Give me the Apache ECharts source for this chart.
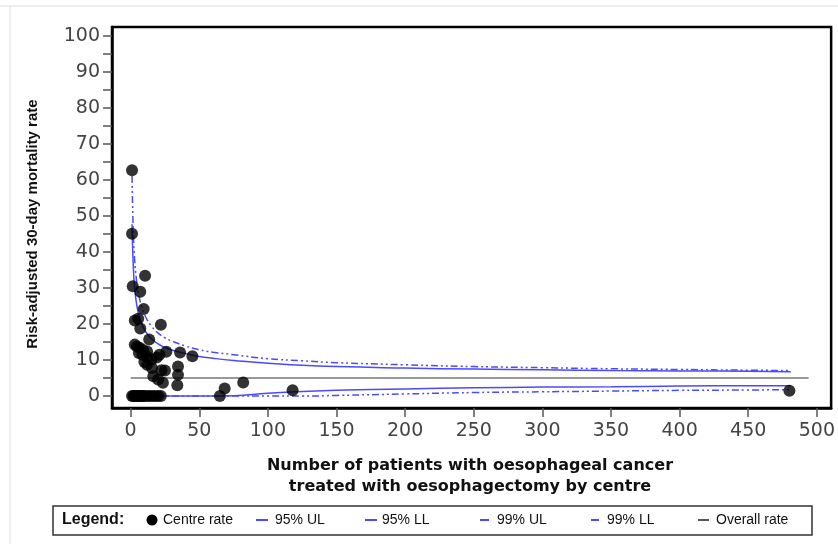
<!DOCTYPE html>
<html><head><meta charset="utf-8">
<script src="https://cdn.jsdelivr.net/npm/echarts@6/dist/echarts.min.js"></script>
<style>html,body{margin:0;padding:0;background:#fff}#c{width:838px;height:544px}</style>
</head><body><div id="c"></div>
<script>
// ---- data ----
const xTicks = [0,50,100,150,200,250,300,350,400,450,500];
const yLabels = [0,10,20,30,40,50,60,70,80,90,100];
const yTicks = [0,5,10,15,20,25,30,35,40,45,50,55,60,65,70,75,80,85,90,95,100];

const centreN = [1,1,10.5,1.5,7,9.5,3,5.5,7,22,13.5,3,6.5,9,12,4.5,8.5,12,15,19,21,26,36,45,12,15.5,22.5,25,34.5,34.5,34,16.5,20,23.5,10,6,65,68.5,82,118,480,
  1,2,3,4,5,6,7,8,9,10,12,14,16,18,20,22];
const centreRate = [62.7,45.1,33.4,30.5,29,24.2,21,21.5,18.8,19.8,15.7,14.3,13.4,12.8,12.4,13.8,11.5,10.9,10.1,10.7,11.5,12.3,12.1,11.1,8.7,7.8,7.2,7.1,8.2,5.9,3.0,5.5,4.6,3.7,9.5,12,0,2.1,3.8,1.6,1.5,
  0,0,0,0,0,0,0,0,0,0,0,0,0,0,0,0];

const limitN = [1,2,3,4,5,6,8,10,12,15,20,25,30,40,50,60,75,100,125,150,200,250,300,350,400,450,481];
const ul95 = [47.7,35.2,29.7,26.4,24.1,22.4,20.1,18.5,17.3,16.0,14.5,13.5,12.8,11.8,11.0,10.5,9.9,9.1,8.6,8.2,7.8,7.5,7.3,7.1,7.0,6.9,6.8];
const ll95 = [0,0,0,0,0,0,0,0,0,0,0,0,0,0,0,0,0.1,0.8,1.3,1.6,2.0,2.3,2.5,2.6,2.8,2.9,2.9];
const ul99 = [61.1,44.7,37.4,33.1,30.1,27.9,24.8,22.7,21.2,19.5,17.5,16.2,15.3,13.9,12.9,12.2,11.5,10.4,9.8,9.3,8.7,8.2,7.9,7.6,7.4,7.2,7.1];
const ll99 = [0,0,0,0,0,0,0,0,0,0,0,0,0,0,0,0,0,0,0,0.2,0.6,1.0,1.2,1.4,1.6,1.7,1.8];
const overallN = [0,494];
const overallRate = [5,5];

const pairs = (a,b)=>a.map((v,i)=>[v,b[i]]);
const BLUE = '#4a4aff';
const dashDot = [7,3,2,3,2,3];

const chart = echarts.init(document.getElementById('c'), null, {renderer:'canvas'});
const legendY = 520;
chart.setOption({
  animation:false,
  backgroundColor:'#fff',
  grid:{left:112,right:5,top:27,bottom:136,show:true,borderColor:'#000',borderWidth:2.5,backgroundColor:'transparent'},
  xAxis:{type:'value',min:-13.6,max:510.4,
    axisLine:{show:true,onZero:false,lineStyle:{color:'#000',width:2.5}},
    axisTick:{show:true,length:9,customValues:xTicks,lineStyle:{color:'#555',width:1.5}},
    axisLabel:{customValues:xTicks,color:'#444',fontFamily:'DejaVu Sans',fontSize:19,margin:14},
    splitLine:{show:false}},
  yAxis:{type:'value',min:-3.3,max:102.5,
    axisLine:{show:true,onZero:false,lineStyle:{color:'#000',width:2.5}},
    axisTick:{show:true,length:9,customValues:yTicks,lineStyle:{color:'#555',width:1.5}},
    axisLabel:{customValues:yLabels,color:'#444',fontFamily:'DejaVu Sans',fontSize:19,margin:12},
    splitLine:{show:false}},
  series:[
    {name:'Overall rate',type:'line',data:pairs(overallN,overallRate),symbol:'none',lineStyle:{color:'#777',width:1.5},z:2},
    {name:'95% UL',type:'line',data:pairs(limitN,ul95),smooth:true,symbol:'none',lineStyle:{color:BLUE,width:1.5},z:3},
    {name:'95% LL',type:'line',data:pairs(limitN,ll95),smooth:true,symbol:'none',lineStyle:{color:BLUE,width:1.5},z:3},
    {name:'99% UL',type:'line',data:pairs(limitN,ul99),smooth:true,symbol:'none',lineStyle:{color:BLUE,width:1.5,type:dashDot},z:3},
    {name:'99% LL',type:'line',data:pairs(limitN,ll99),smooth:true,symbol:'none',lineStyle:{color:BLUE,width:1.5,type:dashDot},z:3},
    {name:'Centre rate',type:'scatter',data:pairs(centreN,centreRate),symbol:'circle',symbolSize:12,itemStyle:{color:'#000'},z:5}
  ],
  graphic:[
    {type:'line',shape:{x1:0,y1:6,x2:838,y2:6},style:{stroke:'#ddd',lineWidth:1}},
    {type:'line',shape:{x1:10,y1:6,x2:10,y2:544},style:{stroke:'#ddd',lineWidth:1}},
    {type:'text',x:33,y:224,rotation:Math.PI/2,style:{text:'Risk-adjusted 30-day mortality rate',font:'bold 15px "Liberation Sans", Arial',fill:'#111',align:'center',verticalAlign:'middle'}},
    {type:'text',x:470,y:466,style:{text:'Number of patients with oesophageal cancer',font:'bold 16px "DejaVu Sans"',fill:'#111',align:'center',verticalAlign:'middle'}},
    {type:'text',x:470,y:487,style:{text:'treated with oesophagectomy by centre',font:'bold 16px "DejaVu Sans"',fill:'#111',align:'center',verticalAlign:'middle'}},
    {type:'rect',shape:{x:53,y:506,width:759,height:29},style:{fill:'#fff',stroke:'#333',lineWidth:1.5}},
    {type:'text',x:62,y:legendY,style:{text:'Legend:',font:'bold 16px "Liberation Sans", Arial',fill:'#111',verticalAlign:'middle'}},
    {type:'circle',shape:{cx:152,cy:legendY,r:5.5},style:{fill:'#000'}},
    {type:'text',x:163,y:legendY,style:{text:'Centre rate',font:'14px "Liberation Sans", Arial',fill:'#111',verticalAlign:'middle'}},
    {type:'line',shape:{x1:256,y1:legendY,x2:268,y2:legendY},style:{stroke:BLUE,lineWidth:2}},
    {type:'text',x:275,y:legendY,style:{text:'95% UL',font:'14px "Liberation Sans", Arial',fill:'#111',verticalAlign:'middle'}},
    {type:'line',shape:{x1:365,y1:legendY,x2:377,y2:legendY},style:{stroke:BLUE,lineWidth:2}},
    {type:'text',x:382,y:legendY,style:{text:'95% LL',font:'14px "Liberation Sans", Arial',fill:'#111',verticalAlign:'middle'}},
    {type:'line',shape:{x1:480,y1:legendY,x2:489,y2:legendY},style:{stroke:BLUE,lineWidth:2}},
    {type:'text',x:497,y:legendY,style:{text:'99% UL',font:'14px "Liberation Sans", Arial',fill:'#111',verticalAlign:'middle'}},
    {type:'line',shape:{x1:591,y1:legendY,x2:599,y2:legendY},style:{stroke:BLUE,lineWidth:2}},
    {type:'text',x:607,y:legendY,style:{text:'99% LL',font:'14px "Liberation Sans", Arial',fill:'#111',verticalAlign:'middle'}},
    {type:'line',shape:{x1:698,y1:legendY,x2:709,y2:legendY},style:{stroke:'#555',lineWidth:2}},
    {type:'text',x:716,y:legendY,style:{text:'Overall rate',font:'14px "Liberation Sans", Arial',fill:'#111',verticalAlign:'middle'}}
  ]
});
</script></body></html>
